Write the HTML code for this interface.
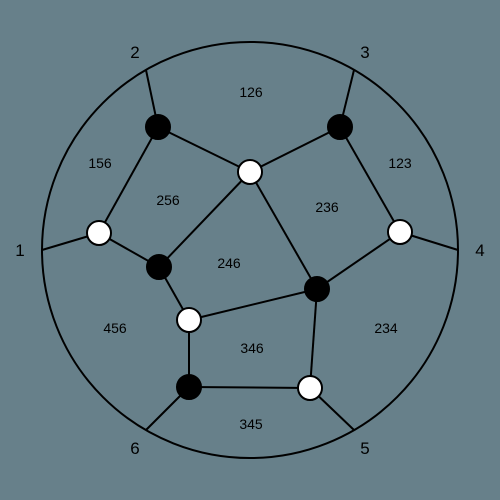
<!DOCTYPE html>
<html><head><meta charset="utf-8"><style>
html,body{margin:0;padding:0;background:#67808a;}
svg{display:block;}
text{font-family:"Liberation Sans",sans-serif;}
</style></head><body>
<svg id="chart" width="500" height="500" viewBox="0 0 500 500">
<rect width="500" height="500" fill="#67808a"/>
<circle cx="250" cy="250" r="208" fill="none" stroke="#000" stroke-width="2"/>
<g id="edges"></g><g id="nodes"></g><g id="labels"></g>
</svg>
<script>
const nodeNames=["b1","b2","w1","w2","w3","b3","b4","w4","b5","w5","p1","p2","p3","p4","p5","p6"];
const nodeX=[158,340,250,99,400,159,317,189,189,310,42,146,354,458,354,146];
const nodeY=[127,127,172,233,232,267,289,320,387,388,250,70,70,250,430,430];
const nodeColor=["black","black","white","white","white","black","black","white","black","white","none","none","none","none","none","none"];
const edgeFrom=["p2","p3","p1","p4","p5","p6","b1","b2","b1","b2","w1","w1","w2","w3","b3","w4","b4","w4","b5"];
const edgeTo=["b1","b2","w2","w3","w5","b5","w1","w1","w2","w3","b3","b4","b3","b4","w4","b4","w5","b5","w5"];
const faceLabels=["126","123","156","256","236","246","456","234","346","345"];
const faceX=[251,400,100,168,327,229,115,386,252,251];
const faceY=[92,163,163,200,207,263,328,328,348,424];
const bLabels=["1","2","3","4","5","6"];
const bX=[20,135,365,480,365,135];
const bY=[250,52,52,250,448,448];
const NS="http://www.w3.org/2000/svg";
const idx=n=>nodeNames.indexOf(n);
const eg=document.getElementById("edges");
for(let i=0;i<edgeFrom.length;i++){
  const a=idx(edgeFrom[i]),b=idx(edgeTo[i]);
  const l=document.createElementNS(NS,"line");
  l.setAttribute("x1",nodeX[a]);l.setAttribute("y1",nodeY[a]);
  l.setAttribute("x2",nodeX[b]);l.setAttribute("y2",nodeY[b]);
  l.setAttribute("stroke","#000");l.setAttribute("stroke-width","2");
  
  
  eg.appendChild(l);
}
const ng=document.getElementById("nodes");
for(let i=0;i<nodeNames.length;i++){
  if(nodeColor[i]==="none")continue;
  const c=document.createElementNS(NS,"circle");
  c.setAttribute("cx",nodeX[i]);c.setAttribute("cy",nodeY[i]);c.setAttribute("r","12");
  c.setAttribute("fill",nodeColor[i]==="black"?"#000":"#fff");
  c.setAttribute("stroke","#000");c.setAttribute("stroke-width","2");
  
  
  ng.appendChild(c);
}
const lg=document.getElementById("labels");
for(let i=0;i<faceLabels.length;i++){
  const t=document.createElementNS(NS,"text");
  t.setAttribute("x",faceX[i]);t.setAttribute("y",faceY[i]+5);
  t.setAttribute("text-anchor","middle");t.setAttribute("font-size","14");
  t.textContent=faceLabels[i];
  
  
  lg.appendChild(t);
}
for(let i=0;i<bLabels.length;i++){
  const t=document.createElementNS(NS,"text");
  t.setAttribute("x",bX[i]);t.setAttribute("y",bY[i]+6);
  t.setAttribute("text-anchor","middle");t.setAttribute("font-size","17");
  t.textContent=bLabels[i];
  
  
  lg.appendChild(t);
}
</script>
</body></html>
